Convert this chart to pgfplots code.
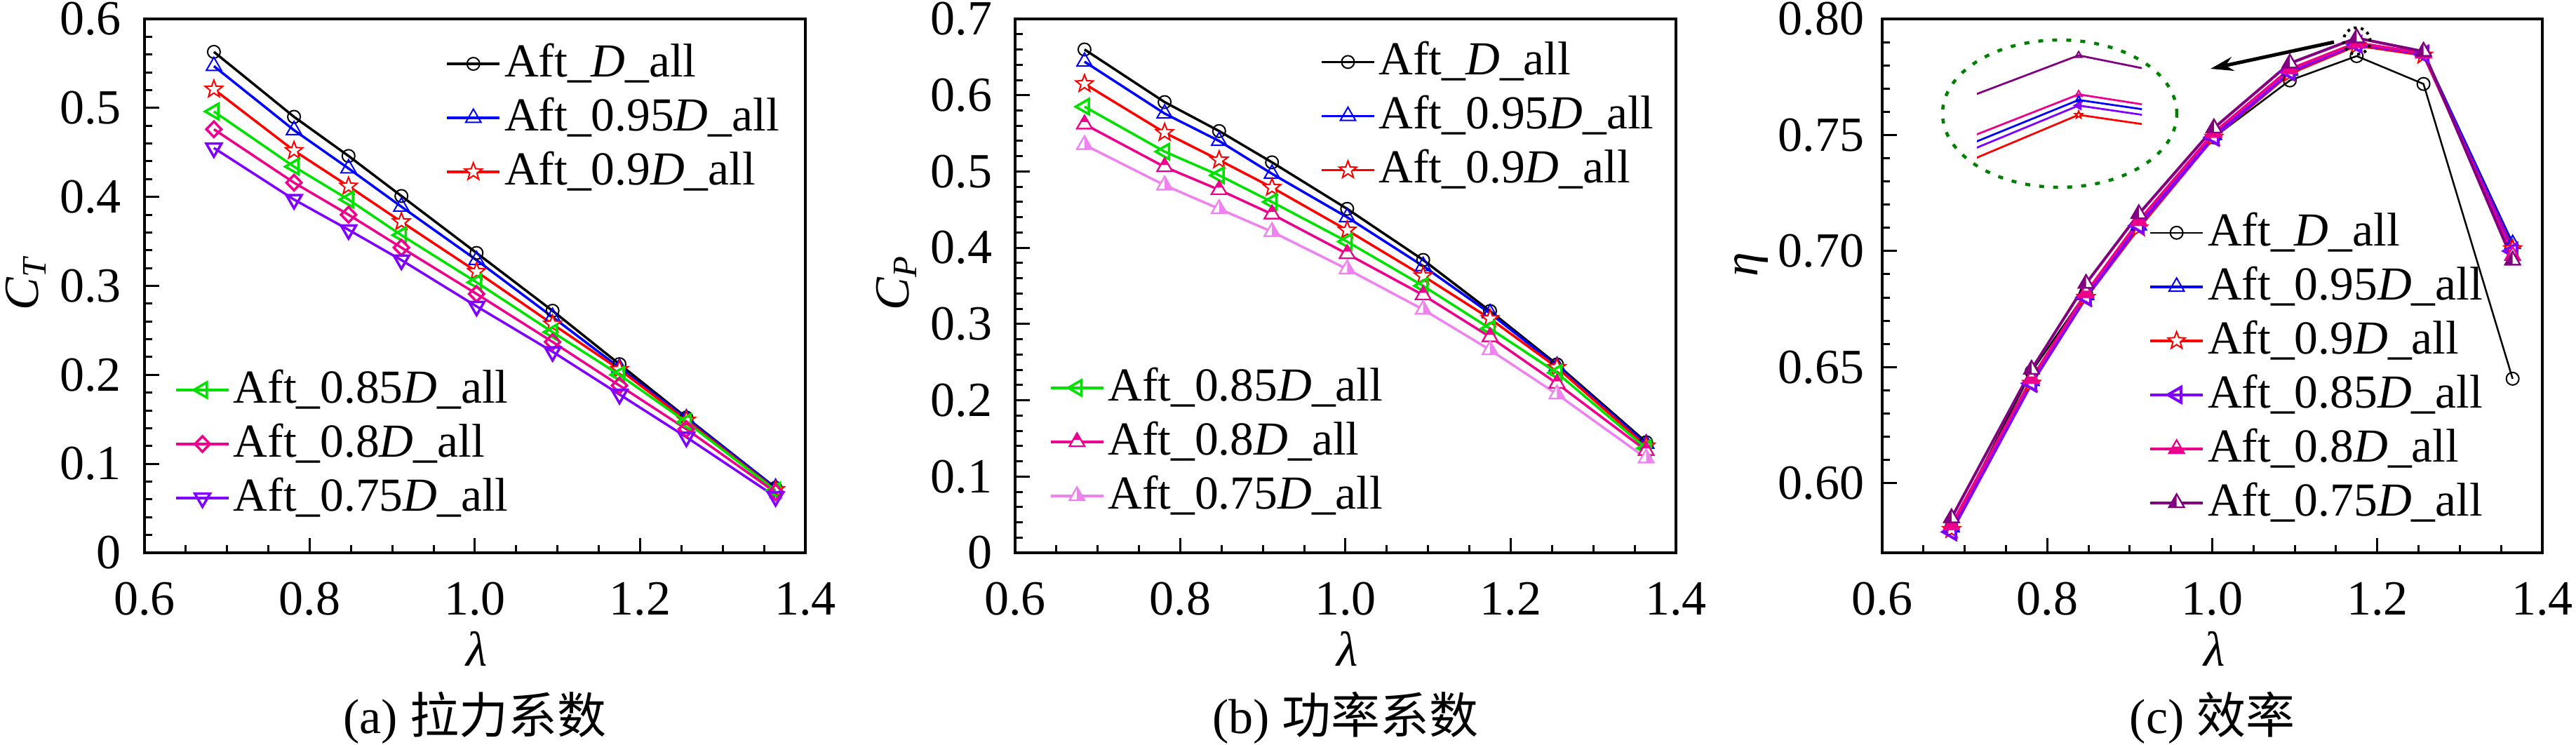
\documentclass[border=0pt]{standalone}
\usepackage{fontspec}
\setmainfont{Liberation Serif}
\newfontfamily\cjk{Noto Sans CJK SC}
\usepackage{pgfplots}
\usepackage{pgfplotstable}
\pgfplotsset{compat=1.18}
\usetikzlibrary{arrows.meta}
\newcommand\fs[1]{\fontsize{#1}{#1}\selectfont}
\definecolor{cgreen}{RGB}{0,225,0}
\definecolor{cviolet}{RGB}{128,0,255}
\definecolor{cpink}{RGB}{238,130,238}
\definecolor{cpurple}{RGB}{128,0,128}
\definecolor{cdkgreen}{RGB}{0,128,0}
\newcommand{\tripath}{%
 \pgfpathmoveto{\pgfqpoint{0pt}{\pgfplotmarksize}}%
 \pgfpathlineto{\pgfqpoint{-0.866\pgfplotmarksize}{-0.5\pgfplotmarksize}}%
 \pgfpathlineto{\pgfqpoint{0.866\pgfplotmarksize}{-0.5\pgfplotmarksize}}%
 \pgfpathclose}
\pgfdeclareplotmark{ostar}{%
 \pgfpathmoveto{\pgfpointpolar{90}{\pgfplotmarksize}}%
 \pgfpathlineto{\pgfpointpolar{126}{0.42\pgfplotmarksize}}%
 \pgfpathlineto{\pgfpointpolar{162}{\pgfplotmarksize}}%
 \pgfpathlineto{\pgfpointpolar{198}{0.42\pgfplotmarksize}}%
 \pgfpathlineto{\pgfpointpolar{234}{\pgfplotmarksize}}%
 \pgfpathlineto{\pgfpointpolar{270}{0.42\pgfplotmarksize}}%
 \pgfpathlineto{\pgfpointpolar{306}{\pgfplotmarksize}}%
 \pgfpathlineto{\pgfpointpolar{342}{0.42\pgfplotmarksize}}%
 \pgfpathlineto{\pgfpointpolar{18}{\pgfplotmarksize}}%
 \pgfpathlineto{\pgfpointpolar{54}{0.42\pgfplotmarksize}}%
 \pgfpathclose\pgfusepathqfillstroke}
\pgfdeclareplotmark{tritopM}{%
 \tripath\pgfusepathqfillstroke
 \pgfscope
 \pgfpathmoveto{\pgfqpoint{0pt}{\pgfplotmarksize}}%
 \pgfpathlineto{\pgfqpoint{-0.433\pgfplotmarksize}{0.25\pgfplotmarksize}}%
 \pgfpathlineto{\pgfqpoint{0.433\pgfplotmarksize}{0.25\pgfplotmarksize}}%
 \pgfpathclose
 \pgfsetfillcolor{magenta}\pgfusepathqfill
 \endpgfscope
 \tripath\pgfusepathqstroke}
\pgfdeclareplotmark{tribotM}{%
 \tripath\pgfusepathqfillstroke
 \pgfscope
 \pgfpathmoveto{\pgfqpoint{-0.433\pgfplotmarksize}{0.25\pgfplotmarksize}}%
 \pgfpathlineto{\pgfqpoint{0.433\pgfplotmarksize}{0.25\pgfplotmarksize}}%
 \pgfpathlineto{\pgfqpoint{0.866\pgfplotmarksize}{-0.5\pgfplotmarksize}}%
 \pgfpathlineto{\pgfqpoint{-0.866\pgfplotmarksize}{-0.5\pgfplotmarksize}}%
 \pgfpathclose
 \pgfsetfillcolor{magenta}\pgfusepathqfill
 \endpgfscope
 \tripath\pgfusepathqstroke}
\pgfdeclareplotmark{trirightP}{%
 \tripath\pgfusepathqfillstroke
 \pgfscope
 \pgfpathmoveto{\pgfqpoint{0pt}{\pgfplotmarksize}}%
 \pgfpathlineto{\pgfqpoint{0pt}{-0.5\pgfplotmarksize}}%
 \pgfpathlineto{\pgfqpoint{0.866\pgfplotmarksize}{-0.5\pgfplotmarksize}}%
 \pgfpathclose
 \pgfsetfillcolor{cpink}\pgfusepathqfill
 \endpgfscope
 \tripath\pgfusepathqstroke}
\pgfdeclareplotmark{trileftU}{%
 \tripath\pgfusepathqfillstroke
 \pgfscope
 \pgfpathmoveto{\pgfqpoint{0pt}{\pgfplotmarksize}}%
 \pgfpathlineto{\pgfqpoint{-0.866\pgfplotmarksize}{-0.5\pgfplotmarksize}}%
 \pgfpathlineto{\pgfqpoint{0pt}{-0.5\pgfplotmarksize}}%
 \pgfpathclose
 \pgfsetfillcolor{cpurple}\pgfusepathqfill
 \endpgfscope
 \tripath\pgfusepathqstroke}

% thrust coefficient C_T
\pgfplotstableread{
lam   D     d95   d90   d85   d80   d75
0.684 0.563 0.547 0.521 0.496 0.476 0.455
0.781 0.490 0.475 0.452 0.434 0.416 0.397
0.847 0.446 0.432 0.412 0.397 0.380 0.363
0.911 0.401 0.389 0.372 0.357 0.343 0.329
1.002 0.337 0.329 0.316 0.304 0.291 0.277
1.094 0.272 0.265 0.257 0.248 0.237 0.226
1.175 0.212 0.208 0.206 0.200 0.188 0.178
1.256 0.152 0.151 0.149 0.147 0.139 0.130
1.364 0.073 0.073 0.071 0.070 0.068 0.063
}\tabA
% power coefficient C_P
\pgfplotstableread{
lam   D     d95   d90   d85   d80   d75
0.684 0.660 0.644 0.615 0.585 0.562 0.535
0.781 0.591 0.576 0.551 0.526 0.506 0.482
0.847 0.553 0.540 0.515 0.495 0.476 0.451
0.911 0.512 0.497 0.479 0.460 0.444 0.421
1.002 0.451 0.440 0.423 0.408 0.392 0.372
1.094 0.384 0.376 0.363 0.350 0.338 0.319
1.175 0.317 0.314 0.307 0.294 0.283 0.266
1.256 0.247 0.245 0.243 0.236 0.222 0.208
1.364 0.145 0.143 0.140 0.137 0.134 0.124
}\tabB
% efficiency eta
\pgfplotstableread{
lam   D      d95    d90    d85    d80    d75
0.684 0.581  0.581  0.580  0.579  0.582  0.585
0.781 0.648  0.644  0.643  0.643  0.645  0.649
0.847 0.682  0.681  0.680  0.680  0.682  0.686
0.911 0.711  0.711  0.710  0.711  0.713  0.716
1.002 0.749  0.750  0.749  0.749  0.751  0.753
1.094 0.7735 0.7777 0.7765 0.7772 0.7784 0.7809
1.175 0.7840 0.7894 0.7886 0.7891 0.7897 0.7918
1.256 0.772  0.7852 0.7844 0.7849 0.7852 0.7860
1.364 0.645  0.703  0.701  0.700  0.698  0.696
}\tabC

\pgfplotsset{
 base/.style={
  scale only axis, anchor=south west, width=188.4pt, height=152.2pt,
  xmin=0.6, xmax=1.4, xtick={0.6,0.8,1.0,1.2,1.4},
  minor x tick num=3, minor y tick num=4,
  tick align=inside, xtick pos=left, ytick pos=left,
  major tick length=4.2pt, minor tick length=2.2pt,
  every tick/.style={black, line width=0.6pt},
  axis line style={line width=0.9pt},
  tick label style={font=\fs{14}, inner sep=1pt},
  /pgf/number format/assume math mode=true,
  xticklabel style={yshift=-7.2pt, /pgf/number format/fixed, /pgf/number format/fixed zerofill, /pgf/number format/precision=1},
  yticklabel style={xshift=-5.4pt},
  label style={font=\fs{14}},
  xlabel={\textit{λ}},
  xlabel style={at={(axis description cs:0.503,-0.18)}, anchor=center},
  ylabel style={at={(axis description cs:-0.18,0.506)}, anchor=center},
  legend style={draw=none, fill=none, inner sep=0pt, outer sep=0pt,
    font=\fs{13.5}, row sep=0pt, column sep=0pt,
    nodes={inner sep=1pt, text height=10.4pt, text depth=3pt}},
  legend cell align=left,
  legend image code/.code={\draw[mark repeat=2,mark phase=2] plot coordinates {(0pt,0pt) (7.5pt,0pt) (15pt,0pt)};},
  every axis plot/.append style={line width=0.7pt},
 },
 hid/.style={base, hide axis, xlabel={}, ylabel={}},
}
\tikzset{every mark/.append style={fill=white, line width=0.4pt, solid}}

\begin{document}
\begin{tikzpicture}
\useasboundingbox (0pt,0pt) rectangle (734.4pt,212.2pt);

% ---------------- (a) ----------------
\begin{axis}[base, at={(41.2pt,54.6pt)}, ymin=0, ymax=0.6, ytick={0,0.1,...,0.6},
  ylabel={\textit{C}\textsubscript{\textit{T}}},
  legend style={at={(0.456,0.9665)}, anchor=north west},
  extra description/.code={\node[font=\fs{14}] at (0.5,-0.309) {(a) {\cjk 拉力系数}};}]
\addplot[black, mark=o, mark size=1.8pt] table[x=lam,y=D] {\tabA};
\addlegendentry{Aft\_\textit{D}\_all}
\addplot[blue, mark=triangle, mark size=2.5pt] table[x=lam,y=d95] {\tabA};
\addlegendentry{Aft\_0.95\textit{D}\_all}
\addplot[red, mark=ostar, mark size=2.6pt] table[x=lam,y=d90] {\tabA};
\addlegendentry{Aft\_0.9\textit{D}\_all}
\end{axis}
\begin{axis}[hid, at={(41.2pt,54.6pt)}, ymin=0, ymax=0.6,
  legend style={at={(0.046,0.052)}, anchor=south west}]
\addplot[cgreen, mark=triangle, mark size=2.5pt, mark options={rotate=90}] table[x=lam,y=d85] {\tabA};
\addlegendentry{Aft\_0.85\textit{D}\_all}
\addplot[magenta, mark=diamond, mark size=2.2pt, mark options={xscale=1.3}] table[x=lam,y=d80] {\tabA};
\addlegendentry{Aft\_0.8\textit{D}\_all}
\addplot[cviolet, mark=triangle, mark size=2.5pt, mark options={rotate=180}] table[x=lam,y=d75] {\tabA};
\addlegendentry{Aft\_0.75\textit{D}\_all}
\end{axis}

% ---------------- (b) ----------------
\begin{axis}[base, at={(289.4pt,54.6pt)}, ymin=0, ymax=0.7, ytick={0,0.1,...,0.7},
  ylabel={\textit{C}\textsubscript{\textit{P}}},
  legend style={at={(0.462,0.970)}, anchor=north west},
  extra description/.code={\node[font=\fs{14}] at (0.5,-0.309) {(b) {\cjk 功率系数}};}]
\addplot[black, mark=o, mark size=1.8pt] table[x=lam,y=D] {\tabB};
\addlegendentry{Aft\_\textit{D}\_all}
\addplot[blue, mark=triangle, mark size=2.5pt] table[x=lam,y=d95] {\tabB};
\addlegendentry{Aft\_0.95\textit{D}\_all}
\addplot[red, mark=ostar, mark size=2.6pt] table[x=lam,y=d90] {\tabB};
\addlegendentry{Aft\_0.9\textit{D}\_all}
\end{axis}
\begin{axis}[hid, at={(289.4pt,54.6pt)}, ymin=0, ymax=0.7,
  legend style={at={(0.052,0.056)}, anchor=south west}]
\addplot[cgreen, mark=triangle, mark size=2.5pt, mark options={rotate=90}] table[x=lam,y=d85] {\tabB};
\addlegendentry{Aft\_0.85\textit{D}\_all}
\addplot[magenta, mark=tritopM, mark size=2.5pt] table[x=lam,y=d80] {\tabB};
\addlegendentry{Aft\_0.8\textit{D}\_all}
\addplot[cpink, mark=trirightP, mark size=2.5pt] table[x=lam,y=d75] {\tabB};
\addlegendentry{Aft\_0.75\textit{D}\_all}
\end{axis}

% ---------------- (c) ----------------
\begin{axis}[base, at={(536.6pt,54.6pt)}, width=188.2pt, ymin=0.57, ymax=0.80,
  ytick={0.60,0.65,0.70,0.75,0.80},
  yticklabel style={xshift=1.4pt, /pgf/number format/fixed, /pgf/number format/fixed zerofill, /pgf/number format/precision=2},
  ylabel={\textit{η}},
  ylabel style={at={(axis description cs:-0.198,0.54)}, anchor=center},
  legend style={at={(0.404,0.043)}, anchor=south west},
  every axis plot/.append style={line width=0.8pt},
  extra description/.code={\node[font=\fs{14}] at (0.5,-0.309) {(c) {\cjk 效率}};}]
\addplot[black, mark=o, mark size=1.8pt, line width=0.5pt] table[x=lam,y=D] {\tabC};
\addlegendentry{Aft\_\textit{D}\_all}
\addplot[blue, mark=triangle, mark size=2.5pt] table[x=lam,y=d95] {\tabC};
\addlegendentry{Aft\_0.95\textit{D}\_all}
\addplot[red, mark=ostar, mark size=2.6pt] table[x=lam,y=d90] {\tabC};
\addlegendentry{Aft\_0.9\textit{D}\_all}
\addplot[cviolet, mark=triangle, mark size=2.5pt, mark options={rotate=90}] table[x=lam,y=d85] {\tabC};
\addlegendentry{Aft\_0.85\textit{D}\_all}
\addplot[magenta, mark=tribotM, mark size=2.5pt] table[x=lam,y=d80] {\tabC};
\addlegendentry{Aft\_0.8\textit{D}\_all}
\addplot[cpurple, mark=trileftU, mark size=2.5pt] table[x=lam,y=d75] {\tabC};
\addlegendentry{Aft\_0.75\textit{D}\_all}
\end{axis}

% inset: magnified view around the peak of (c)
\begin{axis}[scale only axis, anchor=south west, at={(563.6pt,165.2pt)}, width=47pt, height=33pt,
  hide axis, xmin=1.15959, xmax=1.18457, ymin=0.78591, ymax=0.79214,
  every axis plot/.append style={line width=0.55pt, mark size=1.1pt}]
\addplot[cpurple, mark=triangle] table[x=lam,y=d75] {\tabC};
\addplot[magenta, mark=triangle] table[x=lam,y=d80] {\tabC};
\addplot[blue, mark=triangle] table[x=lam,y=d95] {\tabC};
\addplot[cviolet, mark=triangle, mark options={rotate=90}] table[x=lam,y=d85] {\tabC};
\addplot[red, mark=ostar] table[x=lam,y=d90] {\tabC};
\end{axis}

\draw[cdkgreen, line width=0.9pt, dash pattern=on 1.4pt off 2.6pt] (587.2pt,179.8pt) ellipse[x radius=33.4pt, y radius=21pt];
\draw[black, line width=0.8pt, dash pattern=on 0.8pt off 1.2pt] (671.9pt,200.5pt) circle[radius=3.8pt];
\draw[black, line width=1pt, -{Stealth[length=6.5pt, width=4pt]}] (665.4pt,200.2pt) -- (630.2pt,192.6pt);
\end{tikzpicture}
\end{document}
